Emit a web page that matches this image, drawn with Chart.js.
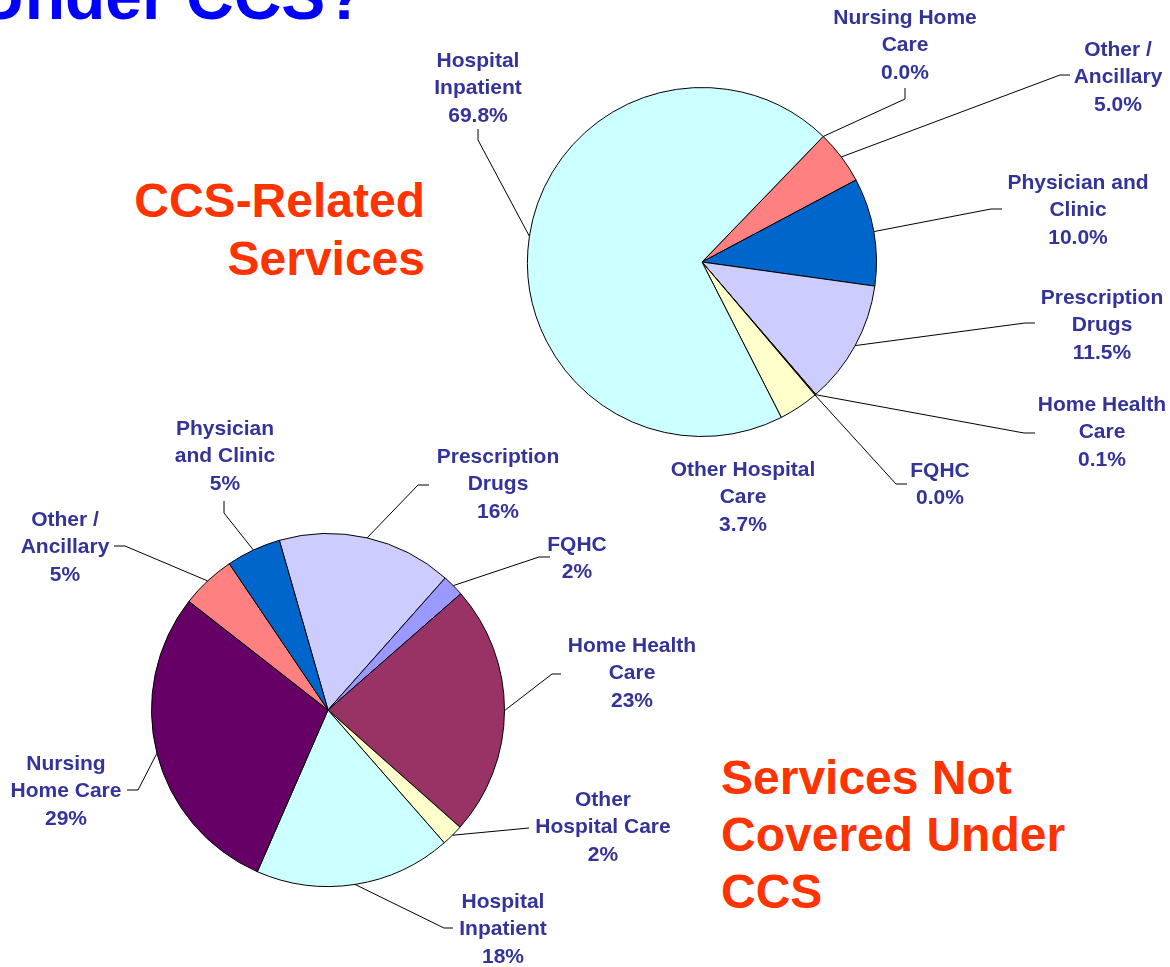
<!DOCTYPE html>
<html>
<head>
<meta charset="utf-8">
<script src="https://cdn.jsdelivr.net/npm/chart.js@4.4.1/dist/chart.umd.min.js"></script>
<style>
  body { margin: 0; background: #fff; }
  #page { position: relative; width: 1170px; height: 967px; overflow: hidden; font-family: "Liberation Sans", Arial, sans-serif; }
  canvas { position: absolute; left: 0; top: 0; }
  .big { position: absolute; font-weight: bold; white-space: nowrap; }
  #title { left: -23px; top: -37px; font-size: 66px; line-height: 66px; color: #0000ff; }
  #topNote { right: 745px; top: 172px; font-size: 48px; line-height: 58px; color: #ff3300; text-align: right; }
  #bottomNote { left: 721px; top: 749px; font-size: 48px; line-height: 57px; color: #ff3300; }
</style>
</head>
<body>
<div id="page">
  <div id="title" class="big">Under CCS?</div>
  <div id="topNote" class="big">CCS-Related<br>Services</div>
  <div id="bottomNote" class="big">Services Not<br>Covered Under<br>CCS</div>
  <canvas id="ccsChart" width="1170" height="967"></canvas>
  <canvas id="nonCcsChart" width="1170" height="967"></canvas>
</div>
<script>
// CCS-related services (percent of spending)
const ccsCategories = [
  ["Nursing Home", "Care"],
  ["Other /", "Ancillary"],
  ["Physician and", "Clinic"],
  ["Prescription", "Drugs"],
  ["Home Health", "Care"],
  ["FQHC"],
  ["Other Hospital", "Care"],
  ["Hospital", "Inpatient"]
];
const ccsKeys = ["nursing", "other", "physician", "rx", "homeHealth", "fqhc", "otherHospital", "inpatient"];
const ccsValues = [0.0, 5.0, 10.0, 11.5, 0.1, 0.0, 3.7, 69.8];

// services not covered under CCS
const nonCcsCategories = [
  ["Prescription", "Drugs"],
  ["FQHC"],
  ["Home Health", "Care"],
  ["Other", "Hospital Care"],
  ["Hospital", "Inpatient"],
  ["Nursing", "Home Care"],
  ["Other /", "Ancillary"],
  ["Physician", "and Clinic"]
];
const nonCcsKeys = ["rx", "fqhc", "homeHealth", "otherHospital", "inpatient", "nursing", "other", "physician"];
const nonCcsValues = [16, 2, 23, 2, 18, 29, 5, 5];

const sliceColors = {
  nursing: "#660066",
  other: "#ff8080",
  physician: "#0066cc",
  rx: "#ccccff",
  homeHealth: "#993366",
  fqhc: "#9999ff",
  otherHospital: "#ffffcc",
  inpatient: "#ccffff"
};

// label anchors (centre of first text line) and leader elbows, from the arc outwards
const ccsLabelLayout = [
  { x: 905, y: 18, leader: [[905, 99], [905, 88]] },
  { x: 1118, y: 50, leader: [[1060, 75], [1070, 75]] },
  { x: 1078, y: 183, leader: [[991, 209], [1002, 209]] },
  { x: 1102, y: 298, leader: [[1025, 323], [1035, 323]] },
  { x: 1102, y: 405, leader: [[1024, 433], [1035, 433]] },
  { x: 940, y: 471, leader: [[896, 484], [907, 484]] },
  { x: 743, y: 470, leader: null },
  { x: 478, y: 61, leader: [[478, 140], [478, 129]] }
];
const nonCcsLabelLayout = [
  { x: 498, y: 457, leader: [[418, 485], [429, 485]] },
  { x: 577, y: 545, leader: [[539, 557], [550, 557]] },
  { x: 632, y: 646, leader: [[552, 674], [561, 674]] },
  { x: 603, y: 800, leader: [[529, 828]] },
  { x: 503, y: 902, leader: [[444, 928], [453, 928]] },
  { x: 66, y: 764, leader: [[138, 790], [127, 790]] },
  { x: 65, y: 520, leader: [[125, 546], [114, 546]] },
  { x: 225, y: 429, leader: [[224, 513], [224, 501]] }
];

const leaderLabels = {
  id: "leaderLabels",
  afterDatasetsDraw(chart, args, opts) {
    const ctx = chart.ctx;
    const meta = chart.getDatasetMeta(0);
    const values = chart.data.datasets[0].data;
    ctx.save();
    meta.data.forEach((arc, i) => {
      const lay = opts.layout[i];
      const p = arc.getProps(["x", "y", "startAngle", "endAngle", "outerRadius"], true);
      const mid = (p.startAngle + p.endAngle) / 2;
      const ax = p.x + Math.cos(mid) * p.outerRadius;
      const ay = p.y + Math.sin(mid) * p.outerRadius;
      if (lay.leader) {
        ctx.beginPath();
        ctx.moveTo(ax, ay);
        lay.leader.forEach(pt => ctx.lineTo(pt[0], pt[1]));
        ctx.strokeStyle = "#000";
        ctx.lineWidth = 1;
        ctx.stroke();
      }
      const lines = chart.data.labels[i].concat([values[i].toFixed(opts.decimals) + "%"]);
      ctx.font = 'bold 21px "Liberation Sans", Arial, sans-serif';
      ctx.fillStyle = "#333399";
      ctx.textAlign = "center";
      ctx.textBaseline = "middle";
      lines.forEach((t, k) => ctx.fillText(t, lay.x, lay.y + k * 27.5));
    });
    ctx.restore();
  }
};

function makePie(id, categories, keys, values, rotation, padding, layout, decimals) {
  return new Chart(document.getElementById(id), {
    type: "pie",
    data: {
      labels: categories,
      datasets: [{
        data: values,
        backgroundColor: keys.map(k => sliceColors[k]),
        borderColor: "#000",
        borderWidth: 1
      }]
    },
    options: {
      responsive: false,
      animation: false,
      events: [],
      rotation: rotation,
      layout: { padding: padding },
      plugins: {
        legend: { display: false },
        tooltip: { enabled: false },
        leaderLabels: { layout: layout, decimals: decimals }
      }
    },
    plugins: [leaderLabels]
  });
}

makePie("ccsChart", ccsCategories, ccsKeys, ccsValues, 44,
  { left: 527, right: 293, top: 87, bottom: 530 }, ccsLabelLayout, 1);
makePie("nonCcsChart", nonCcsCategories, nonCcsKeys, nonCcsValues, -16,
  { left: 151, right: 665, top: 533, bottom: 80 }, nonCcsLabelLayout, 0);
</script>
</body>
</html>
